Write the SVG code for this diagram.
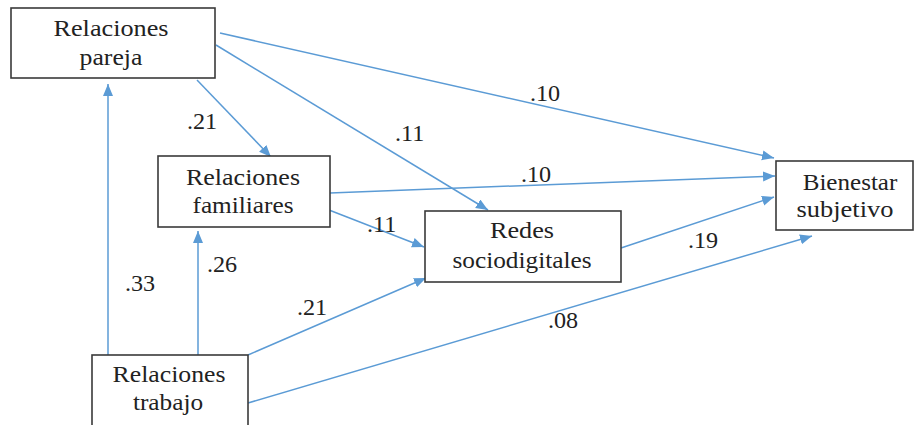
<svg xmlns="http://www.w3.org/2000/svg" width="917" height="425" viewBox="0 0 917 425">
<defs>
<marker id="ah" markerUnits="userSpaceOnUse" markerWidth="13" markerHeight="11" refX="12" refY="5" orient="auto">
<path d="M0,0 L12,5 L0,10 z" fill="#5b9bd5"/>
</marker>
</defs>
<rect width="917" height="425" fill="#fff"/>
<g id="connectors" stroke="#5b9bd5" stroke-width="1.5" fill="none" marker-end="url(#ah)">
<line x1="108" y1="355" x2="108" y2="84"/>
<line x1="198" y1="355" x2="198" y2="231"/>
<line x1="197" y1="80" x2="271" y2="157"/>
<line x1="216" y1="45" x2="488" y2="210"/>
<line x1="220" y1="33" x2="774" y2="158"/>
<line x1="330" y1="193" x2="775" y2="176"/>
<line x1="329" y1="210" x2="424" y2="247"/>
<line x1="621" y1="248" x2="774" y2="197"/>
<line x1="248" y1="355" x2="426" y2="278"/>
<line x1="248" y1="403" x2="812" y2="236"/>
</g>
<g id="labels" fill="#222" font-family="Liberation Serif" font-size="23">
<text transform="translate(530,101) scale(1.05,1)">.10</text>
<text transform="translate(395,141) scale(1.05,1)">.11</text>
<text transform="translate(187,129) scale(1.05,1)">.21</text>
<text transform="translate(521,182) scale(1.05,1)">.10</text>
<text transform="translate(367,232) scale(1.05,1)">.11</text>
<text transform="translate(688,248) scale(1.05,1)">.19</text>
<text transform="translate(207,272) scale(1.05,1)">.26</text>
<text transform="translate(125,291) scale(1.05,1)">.33</text>
<text transform="translate(297,315) scale(1.05,1)">.21</text>
<text transform="translate(548,328) scale(1.05,1)">.08</text>
</g>
<g id="pareja" fill="#222" font-family="Liberation Serif" font-size="23" text-anchor="middle">
<rect x="11" y="8" width="204" height="70" fill="#fff" stroke="#3a3a3a" stroke-width="1.6"/>
<text transform="translate(111,36) scale(1.14,1)">Relaciones</text>
<text transform="translate(111,65) scale(1.12,1)">pareja</text>
</g>
<g id="familiares" fill="#222" font-family="Liberation Serif" font-size="23" text-anchor="middle">
<rect x="158" y="156" width="172" height="71" fill="#fff" stroke="#3a3a3a" stroke-width="1.6"/>
<text transform="translate(243,185) scale(1.13,1)">Relaciones</text>
<text transform="translate(243,213) scale(1.1,1)">familiares</text>
</g>
<g id="redes" fill="#222" font-family="Liberation Serif" font-size="23" text-anchor="middle">
<rect x="425" y="211" width="196" height="71" fill="#fff" stroke="#3a3a3a" stroke-width="1.6"/>
<text transform="translate(522,238) scale(1.14,1)">Redes</text>
<text transform="translate(522,268) scale(1.1,1)">sociodigitales</text>
</g>
<g id="bienestar" fill="#222" font-family="Liberation Serif" font-size="23" text-anchor="middle">
<rect x="776" y="161" width="137" height="69" fill="#fff" stroke="#3a3a3a" stroke-width="1.6"/>
<text transform="translate(850,190) scale(1.09,1)">Bienestar</text>
<text transform="translate(845,217) scale(1.15,1)">subjetivo</text>
</g>
<g id="trabajo" fill="#222" font-family="Liberation Serif" font-size="23" text-anchor="middle">
<rect x="92" y="355" width="156" height="72" fill="#fff" stroke="#3a3a3a" stroke-width="1.6"/>
<text transform="translate(169,382) scale(1.12,1)">Relaciones</text>
<text transform="translate(168,410) scale(1.1,1)">trabajo</text>
</g>
</svg>
